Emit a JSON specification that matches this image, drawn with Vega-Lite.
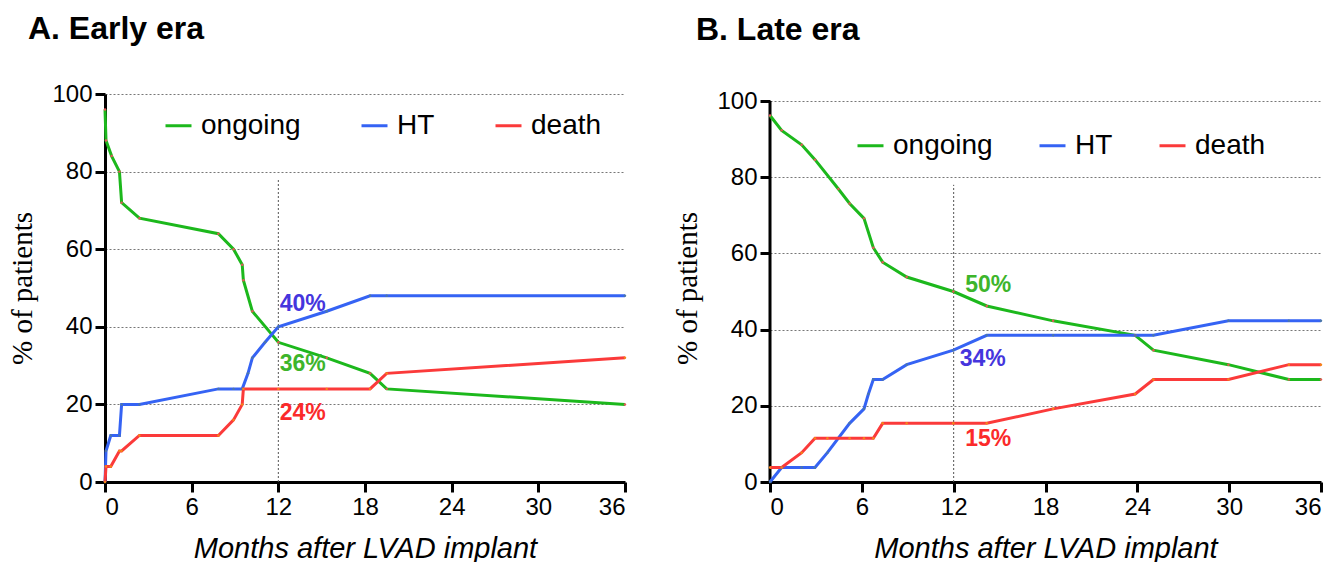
{
  "$schema": "https://vega.github.io/schema/vega-lite/v6.json",
  "padding": {"left": 8, "top": 13, "right": 0, "bottom": 0},
  "background": "white",
  "spacing": 42,
  "datasets": {
    "early": [
      {"i": 1, "series": "ongoing", "month": 0, "pct": 96},
      {"i": 2, "series": "ongoing", "month": 0.07, "pct": 88},
      {"i": 3, "series": "ongoing", "month": 0.46, "pct": 84},
      {"i": 4, "series": "ongoing", "month": 1.0, "pct": 80},
      {"i": 5, "series": "ongoing", "month": 1.15, "pct": 72},
      {"i": 6, "series": "ongoing", "month": 2.38, "pct": 68},
      {"i": 7, "series": "ongoing", "month": 7.85, "pct": 64},
      {"i": 8, "series": "ongoing", "month": 8.9, "pct": 60},
      {"i": 9, "series": "ongoing", "month": 9.5, "pct": 56},
      {"i": 10, "series": "ongoing", "month": 9.58, "pct": 52},
      {"i": 11, "series": "ongoing", "month": 10.2, "pct": 44},
      {"i": 12, "series": "ongoing", "month": 12.0, "pct": 36},
      {"i": 13, "series": "ongoing", "month": 15.35, "pct": 32},
      {"i": 14, "series": "ongoing", "month": 18.35, "pct": 28},
      {"i": 15, "series": "ongoing", "month": 19.5, "pct": 24},
      {"i": 16, "series": "ongoing", "month": 36, "pct": 20},
      {"i": 1, "series": "HT", "month": 0, "pct": 0},
      {"i": 2, "series": "HT", "month": 0.07, "pct": 8},
      {"i": 3, "series": "HT", "month": 0.4, "pct": 12},
      {"i": 4, "series": "HT", "month": 1.0, "pct": 12},
      {"i": 5, "series": "HT", "month": 1.15, "pct": 20},
      {"i": 6, "series": "HT", "month": 2.38, "pct": 20},
      {"i": 7, "series": "HT", "month": 7.85, "pct": 24},
      {"i": 8, "series": "HT", "month": 8.9, "pct": 24},
      {"i": 9, "series": "HT", "month": 9.5, "pct": 24},
      {"i": 10, "series": "HT", "month": 9.9, "pct": 28},
      {"i": 11, "series": "HT", "month": 10.2, "pct": 32},
      {"i": 12, "series": "HT", "month": 11.08, "pct": 36},
      {"i": 13, "series": "HT", "month": 12.0, "pct": 40},
      {"i": 14, "series": "HT", "month": 15.35, "pct": 44},
      {"i": 15, "series": "HT", "month": 18.35, "pct": 48},
      {"i": 16, "series": "HT", "month": 19.5, "pct": 48},
      {"i": 17, "series": "HT", "month": 36, "pct": 48},
      {"i": 1, "series": "death", "month": 0, "pct": 0},
      {"i": 2, "series": "death", "month": 0.07, "pct": 4},
      {"i": 3, "series": "death", "month": 0.4, "pct": 4},
      {"i": 4, "series": "death", "month": 1.0, "pct": 8},
      {"i": 5, "series": "death", "month": 1.15, "pct": 8},
      {"i": 6, "series": "death", "month": 2.38, "pct": 12},
      {"i": 7, "series": "death", "month": 7.85, "pct": 12},
      {"i": 8, "series": "death", "month": 8.9, "pct": 16},
      {"i": 9, "series": "death", "month": 9.5, "pct": 20},
      {"i": 10, "series": "death", "month": 9.58, "pct": 24},
      {"i": 11, "series": "death", "month": 12.0, "pct": 24},
      {"i": 12, "series": "death", "month": 15.35, "pct": 24},
      {"i": 13, "series": "death", "month": 18.35, "pct": 24},
      {"i": 14, "series": "death", "month": 19.5, "pct": 28},
      {"i": 15, "series": "death", "month": 36, "pct": 32}
    ],
    "late": [
      {"i": 1, "series": "ongoing", "month": 0, "pct": 96.2},
      {"i": 2, "series": "ongoing", "month": 0.76, "pct": 92.3},
      {"i": 3, "series": "ongoing", "month": 2.07, "pct": 88.5},
      {"i": 4, "series": "ongoing", "month": 2.94, "pct": 84.6},
      {"i": 5, "series": "ongoing", "month": 4.47, "pct": 76.9},
      {"i": 6, "series": "ongoing", "month": 5.2, "pct": 73.1},
      {"i": 7, "series": "ongoing", "month": 6.14, "pct": 69.2},
      {"i": 8, "series": "ongoing", "month": 6.75, "pct": 61.5},
      {"i": 9, "series": "ongoing", "month": 7.36, "pct": 57.7},
      {"i": 10, "series": "ongoing", "month": 8.93, "pct": 53.8},
      {"i": 11, "series": "ongoing", "month": 11.98, "pct": 50},
      {"i": 12, "series": "ongoing", "month": 14.16, "pct": 46.2},
      {"i": 13, "series": "ongoing", "month": 18.5, "pct": 42.3},
      {"i": 14, "series": "ongoing", "month": 23.86, "pct": 38.5},
      {"i": 15, "series": "ongoing", "month": 25.05, "pct": 34.6},
      {"i": 16, "series": "ongoing", "month": 29.95, "pct": 30.8},
      {"i": 17, "series": "ongoing", "month": 33.9, "pct": 26.9},
      {"i": 18, "series": "ongoing", "month": 36, "pct": 26.9},
      {"i": 1, "series": "HT", "month": 0, "pct": 0},
      {"i": 2, "series": "HT", "month": 0.76, "pct": 3.8},
      {"i": 3, "series": "HT", "month": 2.07, "pct": 3.8},
      {"i": 4, "series": "HT", "month": 2.94, "pct": 3.8},
      {"i": 5, "series": "HT", "month": 3.75, "pct": 7.7},
      {"i": 6, "series": "HT", "month": 5.2, "pct": 15.4},
      {"i": 7, "series": "HT", "month": 6.14, "pct": 19.2},
      {"i": 8, "series": "HT", "month": 6.43, "pct": 23.1},
      {"i": 9, "series": "HT", "month": 6.75, "pct": 26.9},
      {"i": 10, "series": "HT", "month": 7.36, "pct": 26.9},
      {"i": 11, "series": "HT", "month": 8.93, "pct": 30.8},
      {"i": 12, "series": "HT", "month": 11.98, "pct": 34.6},
      {"i": 13, "series": "HT", "month": 14.16, "pct": 38.5},
      {"i": 14, "series": "HT", "month": 18.5, "pct": 38.5},
      {"i": 15, "series": "HT", "month": 23.86, "pct": 38.5},
      {"i": 16, "series": "HT", "month": 25.05, "pct": 38.5},
      {"i": 17, "series": "HT", "month": 29.95, "pct": 42.3},
      {"i": 18, "series": "HT", "month": 33.9, "pct": 42.3},
      {"i": 19, "series": "HT", "month": 36, "pct": 42.3},
      {"i": 1, "series": "death", "month": 0, "pct": 3.8},
      {"i": 2, "series": "death", "month": 0.76, "pct": 3.8},
      {"i": 3, "series": "death", "month": 2.07, "pct": 7.7},
      {"i": 4, "series": "death", "month": 2.94, "pct": 11.5},
      {"i": 5, "series": "death", "month": 3.75, "pct": 11.5},
      {"i": 6, "series": "death", "month": 5.2, "pct": 11.5},
      {"i": 7, "series": "death", "month": 6.14, "pct": 11.5},
      {"i": 8, "series": "death", "month": 6.75, "pct": 11.5},
      {"i": 9, "series": "death", "month": 7.36, "pct": 15.4},
      {"i": 10, "series": "death", "month": 8.93, "pct": 15.4},
      {"i": 11, "series": "death", "month": 11.98, "pct": 15.4},
      {"i": 12, "series": "death", "month": 14.16, "pct": 15.4},
      {"i": 13, "series": "death", "month": 18.5, "pct": 19.2},
      {"i": 14, "series": "death", "month": 23.86, "pct": 23.1},
      {"i": 15, "series": "death", "month": 25.05, "pct": 26.9},
      {"i": 16, "series": "death", "month": 29.95, "pct": 26.9},
      {"i": 17, "series": "death", "month": 33.9, "pct": 30.8},
      {"i": 18, "series": "death", "month": 36, "pct": 30.8}
    ]
  },
  "hconcat": [
    {
      "width": 520,
      "height": 388,
      "title": {"text": "A. Early era", "anchor": "start", "frame": "bounds", "dx": 19, "offset": 36},
      "layer": [
        {
          "data": {"values": [{"month": 12, "lo": 0, "hi": 78}]},
          "mark": {"type": "rule", "color": "#555555", "strokeWidth": 1, "strokeDash": [2, 2]},
          "encoding": {
            "x": {"field": "month", "type": "quantitative"},
            "y": {"field": "lo", "type": "quantitative"},
            "y2": {"field": "hi"}
          }
        },
        {
          "data": {"name": "early"},
          "mark": {"type": "line", "strokeWidth": 3},
          "encoding": {
            "x": {"field": "month", "type": "quantitative", "scale": {"domain": [0, 36], "nice": false}, "axis": {"values": [0, 6, 12, 18, 24, 30, 36], "title": "Months after LVAD implant"}},
            "y": {"field": "pct", "type": "quantitative", "scale": {"domain": [0, 100], "nice": false}, "axis": {"values": [0, 20, 40, 60, 80, 100], "title": "% of patients", "grid": true}},
            "order": {"field": "i", "type": "quantitative"},
            "color": {
              "field": "series", "type": "nominal",
              "scale": {"domain": ["ongoing", "HT", "death"], "range": ["#1cb81c", "#3563f4", "#fb3a3a"]},
              "legend": {"orient": "none", "legendX": 59, "legendY": 17, "direction": "horizontal", "columns": 3, "columnPadding": 54, "title": null, "symbolType": "stroke", "symbolSize": 676, "symbolStrokeWidth": 3, "labelFontSize": 28, "labelFont": "Liberation Sans", "labelColor": "#000000", "labelOffset": 8}
            }
          }
        },
        {
          "data": {"name": "early"},
          "mark": {"type": "point", "filled": true, "size": 6, "opacity": 1},
          "encoding": {
            "x": {"field": "month", "type": "quantitative"},
            "y": {"field": "pct", "type": "quantitative"},
            "color": {"field": "series", "type": "nominal", "legend": null}
          }
        },
        {
          "data": {"values": [
            {"month": 12.1, "pct": 46, "label": "40%", "c": "HT"},
            {"month": 12.1, "pct": 30.4, "label": "36%", "c": "ongoing"},
            {"month": 12.1, "pct": 17.9, "label": "24%", "c": "death"}
          ]},
          "mark": {"type": "text", "align": "left", "baseline": "middle", "fontSize": 23, "fontWeight": "bold", "font": "Liberation Sans"},
          "encoding": {
            "x": {"field": "month", "type": "quantitative"},
            "y": {"field": "pct", "type": "quantitative"},
            "text": {"field": "label"},
            "color": {"field": "c", "type": "nominal", "scale": {"domain": ["ongoing", "HT", "death"], "range": ["#3db52b", "#4535dd", "#fb2a2a"]}, "legend": null}
          }
        }
      ],
      "resolve": {"scale": {"color": "independent"}}
    },
    {
      "width": 551,
      "height": 388,
      "title": {"text": "B. Late era", "anchor": "start", "frame": "bounds", "dx": 22, "offset": 42},
      "layer": [
        {
          "data": {"values": [{"month": 12, "lo": 0, "hi": 78}]},
          "mark": {"type": "rule", "color": "#555555", "strokeWidth": 1, "strokeDash": [2, 2]},
          "encoding": {
            "x": {"field": "month", "type": "quantitative"},
            "y": {"field": "lo", "type": "quantitative"},
            "y2": {"field": "hi"}
          }
        },
        {
          "data": {"values": [{"month": 0, "lo": 0, "hi": 100}]},
          "mark": {"type": "rule", "color": "#000000", "strokeWidth": 3},
          "encoding": {
            "x": {"field": "month", "type": "quantitative"},
            "y": {"field": "lo", "type": "quantitative"},
            "y2": {"field": "hi"}
          }
        },
        {
          "data": {"name": "late"},
          "mark": {"type": "line", "strokeWidth": 3},
          "encoding": {
            "x": {"field": "month", "type": "quantitative", "scale": {"domain": [0, 36], "nice": false}, "axis": {"values": [0, 6, 12, 18, 24, 30, 36], "title": "Months after LVAD implant"}},
            "y": {"field": "pct", "type": "quantitative", "scale": {"domain": [0, 101.84], "nice": false}, "axis": {"values": [0, 20, 40, 60, 80, 100], "title": "% of patients", "grid": true, "domain": false}},
            "order": {"field": "i", "type": "quantitative"},
            "color": {
              "field": "series", "type": "nominal",
              "scale": {"domain": ["ongoing", "HT", "death"], "range": ["#1cb81c", "#3563f4", "#fb3a3a"]},
              "legend": {"orient": "none", "legendX": 86, "legendY": 37, "direction": "horizontal", "columns": 3, "columnPadding": 40, "title": null, "symbolType": "stroke", "symbolSize": 676, "symbolStrokeWidth": 3, "labelFontSize": 28, "labelFont": "Liberation Sans", "labelColor": "#000000", "labelOffset": 8}
            }
          }
        },
        {
          "data": {"name": "late"},
          "mark": {"type": "point", "filled": true, "size": 6, "opacity": 1},
          "encoding": {
            "x": {"field": "month", "type": "quantitative"},
            "y": {"field": "pct", "type": "quantitative"},
            "color": {"field": "series", "type": "nominal", "legend": null}
          }
        },
        {
          "data": {"values": [
            {"month": 12.75, "pct": 51.7, "label": "50%", "c": "ongoing"},
            {"month": 12.4, "pct": 32.3, "label": "34%", "c": "HT"},
            {"month": 12.75, "pct": 11.3, "label": "15%", "c": "death"}
          ]},
          "mark": {"type": "text", "align": "left", "baseline": "middle", "fontSize": 23, "fontWeight": "bold", "font": "Liberation Sans"},
          "encoding": {
            "x": {"field": "month", "type": "quantitative"},
            "y": {"field": "pct", "type": "quantitative"},
            "text": {"field": "label"},
            "color": {"field": "c", "type": "nominal", "scale": {"domain": ["ongoing", "HT", "death"], "range": ["#3db52b", "#4535dd", "#fb2a2a"]}, "legend": null}
          }
        }
      ],
      "resolve": {"scale": {"color": "independent"}}
    }
  ],
  "resolve": {"scale": {"color": "independent", "x": "independent", "y": "independent"}, "legend": {"color": "independent"}},
  "config": {
    "view": {"stroke": null},
    "font": "Liberation Sans",
    "title": {"fontSize": 32, "fontWeight": "bold", "font": "Liberation Sans", "color": "#000000"},
    "axis": {
      "domainColor": "#000000", "domainWidth": 3, "tickColor": "#000000", "tickWidth": 3, "tickSize": 10,
      "labelFontSize": 24, "labelColor": "#000000", "labelFont": "Liberation Sans", "labelPadding": 3,
      "titleColor": "#000000", "titleFontWeight": "normal", "grid": false,
      "gridColor": "#777777", "gridDash": [2, 2], "gridWidth": 1
    },
    "axisX": {"titleFontSize": 29, "titleFontStyle": "italic", "titleFont": "Liberation Sans", "titlePadding": 15, "labelPadding": 3},
    "axisY": {"titleFontSize": 29, "titleFont": "Liberation Serif", "titlePadding": 14}
  }
}
